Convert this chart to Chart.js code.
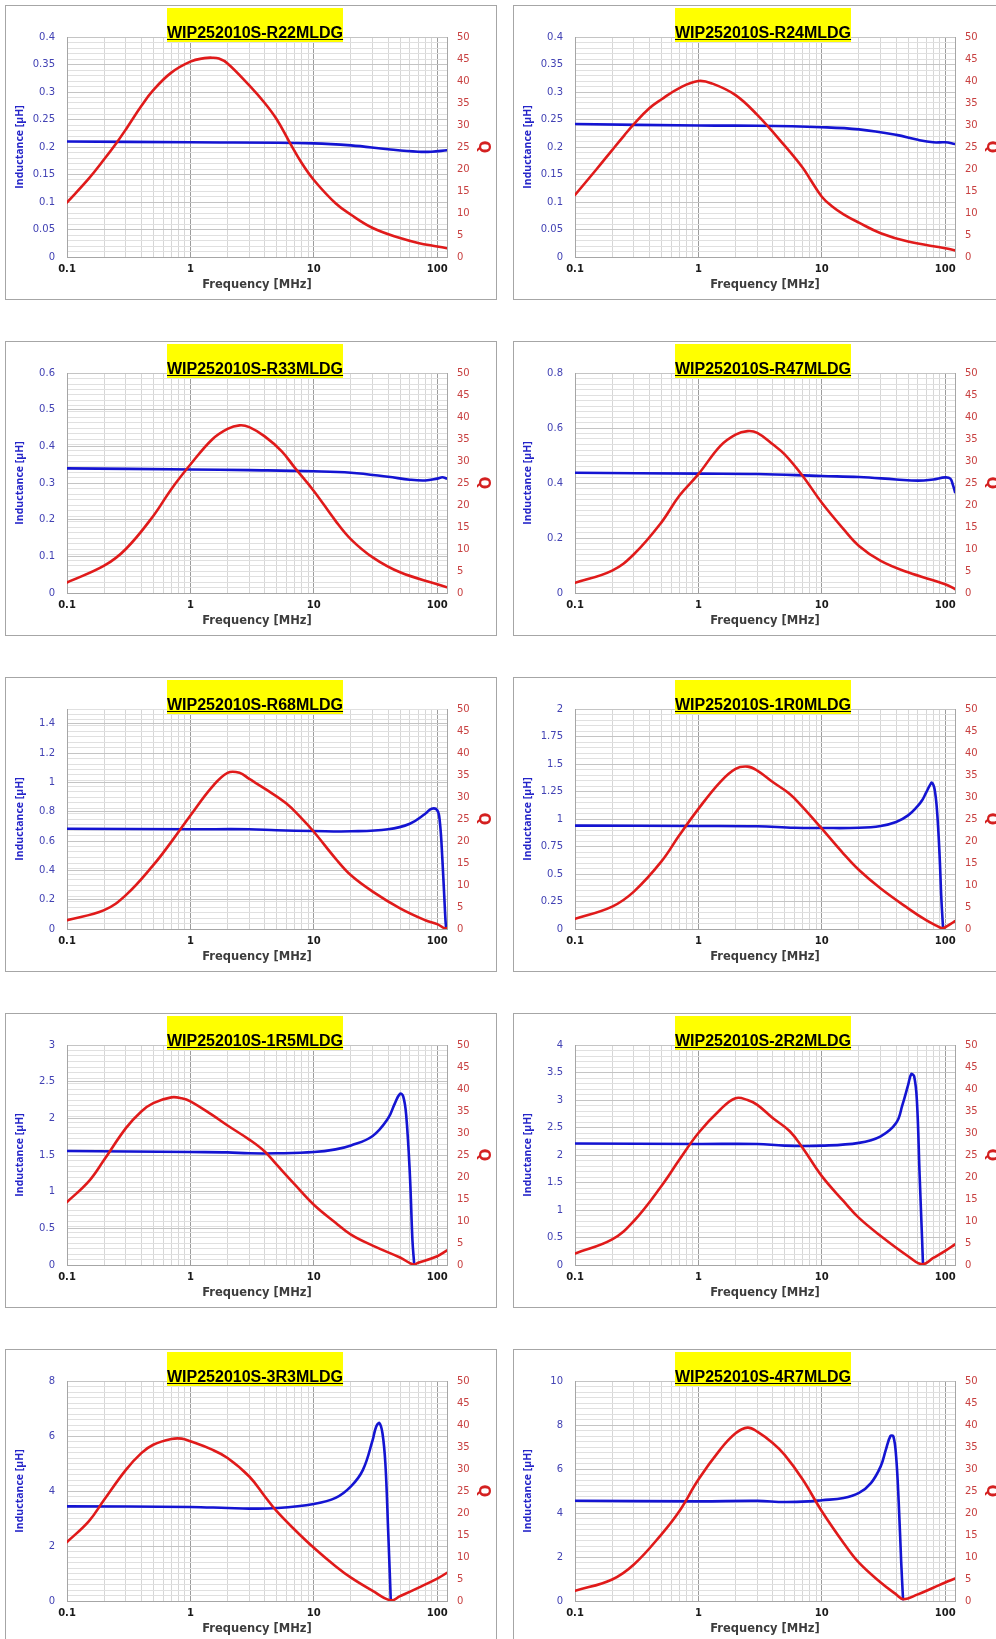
<!DOCTYPE html>
<html>
<head>
<meta charset="utf-8">
<script src="https://cdn.jsdelivr.net/npm/chart.js@4.4.0/dist/chart.umd.min.js"></script>
<style>
  html, body { margin: 0; padding: 0; background: #fff; }
  body { width: 996px; height: 1639px; overflow: hidden; position: relative; }
  .panel { position: absolute; width: 492px; height: 295px; border: 1px solid #a6a6a6; box-sizing: border-box; background: #fff; }
  .panel canvas { position: absolute; left: 0; top: 0; }
  .ttl { position: absolute; top: 2px; left: 161px; height: 34px; padding-top: 16px; box-sizing: border-box;
         background: #ffff00; font: bold 16px "Liberation Sans", Arial, sans-serif; line-height: 18px;
         color: #000; text-decoration: underline; white-space: nowrap; z-index: 2; }
</style>
</head>
<body>
<script>
// panel titles, in reading order (left column, right column)
const titles = ['WIP252010S-R22MLDG', 'WIP252010S-R24MLDG', 'WIP252010S-R33MLDG', 'WIP252010S-R47MLDG',
  'WIP252010S-R68MLDG', 'WIP252010S-1R0MLDG', 'WIP252010S-1R5MLDG', 'WIP252010S-2R2MLDG',
  'WIP252010S-3R3MLDG', 'WIP252010S-4R7MLDG'];
// left axis (inductance) range and label step
const lMax = [0.4, 0.4, 0.6, 0.8, 1.5, 2, 3, 4, 8, 10];
const lStep = [0.05, 0.05, 0.1, 0.2, 0.2, 0.25, 0.5, 0.5, 2, 2];
// right axis (Q)
const qMax = 50;
const qStep = 5;
// x axis (log, MHz)
const xMin = 0.1;
const xMax = 120;
const xTickLabels = [0.1, 1, 10, 100];
const xMinorSteps = [1, 2, 3, 4, 5, 6, 7, 8, 9];

// R22
const r22LFreq = [0.1, 1, 10, 20, 40, 70, 90, 120];
const r22L = [0.210, 0.2085, 0.2066, 0.203, 0.196, 0.1915, 0.1915, 0.194];
const r22QFreq = [0.1, 0.15, 0.2, 0.25, 0.3, 0.4, 0.5, 0.7, 1, 1.3, 1.5, 1.7, 2, 3, 4, 5, 6.3, 8, 10, 15, 20, 30, 50, 70, 100, 120];
const r22Q = [12.4, 17.8, 22.2, 25.8, 29, 34.3, 37.9, 41.9, 44.4, 45.2, 45.3, 45.1, 44, 39, 35, 31.3, 26.3, 21.3, 17.5, 12.2, 9.6, 6.6, 4.3, 3.2, 2.4, 2.0];
// R24
const r24LFreq = [0.1, 1, 3, 10, 20, 40, 60, 80, 100, 120];
const r24L = [0.2417, 0.239, 0.2387, 0.236, 0.232, 0.222, 0.213, 0.2085, 0.2085, 0.2054];
const r24QFreq = [0.1, 0.15, 0.2, 0.25, 0.3, 0.4, 0.5, 0.7, 1, 1.3, 2, 3, 5, 7, 8, 10, 12, 15, 20, 30, 50, 100, 120];
const r24Q = [14.1, 20, 24.3, 27.6, 30.2, 33.8, 35.8, 38.4, 40, 39.4, 36.8, 32.3, 25.3, 20.3, 17.8, 13.7, 11.6, 9.7, 7.8, 5.4, 3.5, 2.0, 1.5];
// R33
const r33LFreq = [0.1, 1, 3, 10, 20, 40, 60, 80, 100, 110, 120];
const r33L = [0.340, 0.337, 0.335, 0.332, 0.328, 0.317, 0.309, 0.307, 0.312, 0.3155, 0.312];
const r33QFreq = [0.1, 0.2, 0.3, 0.5, 0.7, 1, 1.5, 2, 2.5, 3, 4, 5.5, 7, 10, 15, 20, 30, 50, 100, 120];
const r33Q = [2.4, 6.2, 10, 17.5, 23.6, 29.2, 34.9, 37.3, 38.1, 37.7, 35.6, 32.2, 28.5, 23.2, 16.4, 12.2, 8.1, 4.7, 2.0, 1.3];
// R47
const r47LFreq = [0.1, 1, 3, 10, 20, 40, 60, 80, 100, 110, 115, 120];
const r47L = [0.4375, 0.434, 0.4326, 0.4254, 0.4218, 0.413, 0.4085, 0.413, 0.4205, 0.416, 0.395, 0.367];
const r47QFreq = [0.1, 0.2, 0.3, 0.5, 0.7, 1, 1.5, 2, 2.5, 3, 4, 5, 7, 10, 15, 20, 30, 50, 100, 120];
const r47Q = [2.3, 5.1, 8.8, 16, 22.1, 27, 33.4, 36, 36.8, 36.4, 33.8, 31.5, 26.6, 20.5, 14.5, 10.7, 7.3, 4.7, 2.0, 0.9];
// R68
const r68LFreq = [0.1, 1, 3, 5, 10, 20, 40, 60, 80, 90, 100, 105, 110, 115, 118, 120];
const r68L = [0.684, 0.68, 0.68, 0.673, 0.668, 0.666, 0.68, 0.718, 0.786, 0.82, 0.81, 0.73, 0.48, 0.16, 0.005, 0];
const r68QFreq = [0.1, 0.2, 0.3, 0.5, 0.7, 1, 1.5, 2, 2.5, 3, 4, 6, 8, 10, 15, 20, 30, 50, 80, 100, 115, 120];
const r68Q = [2.0, 4.3, 7.7, 14.5, 19.8, 25.8, 32.3, 35.5, 35.5, 34.1, 31.9, 28.5, 25.1, 22.1, 16, 12.2, 8.5, 4.7, 2.0, 1.1, 0.15, 0.2];
// 1R0
const r1r0LFreq = [0.1, 1, 3, 6, 10, 20, 30, 40, 50, 60, 65, 70, 75, 78, 82, 86, 90, 93, 96];
const r1r0L = [0.94, 0.937, 0.934, 0.92, 0.918, 0.92, 0.937, 0.973, 1.033, 1.12, 1.17, 1.24, 1.305, 1.33, 1.27, 1.06, 0.67, 0.28, 0.01];
const r1r0QFreq = [0.1, 0.2, 0.3, 0.5, 0.7, 1, 1.5, 2, 2.5, 3, 4, 5.5, 7, 10, 15, 20, 30, 50, 70, 85, 95, 100, 110, 120];
const r1r0Q = [2.3, 5.1, 8.5, 15.3, 21.3, 27.3, 33.4, 36.4, 36.9, 36, 33.4, 30.7, 27.7, 22.8, 17.1, 13.4, 9.2, 4.7, 2.0, 0.75, 0.15, 0.4, 1.1, 1.8];
// 1R5
const r1r5LFreq = [0.1, 1, 2, 3, 5, 10, 15, 20, 30, 40, 45, 50, 53, 56, 60, 63, 65];
const r1r5L = [1.555, 1.54, 1.536, 1.523, 1.523, 1.54, 1.577, 1.63, 1.76, 2.0, 2.19, 2.336, 2.3, 2.05, 1.24, 0.33, 0.02];
const r1r5QFreq = [0.1, 0.15, 0.2, 0.3, 0.4, 0.5, 0.7, 0.85, 1, 1.5, 2, 3, 4, 5, 7, 10, 15, 20, 30, 50, 64, 70, 100, 120];
const r1r5Q = [14.3, 19, 23.9, 31.1, 34.9, 36.8, 38.1, 37.9, 37.2, 34.1, 31.7, 28.5, 25.8, 22.8, 18.3, 13.7, 9.6, 6.9, 4.4, 1.7, 0.1, 0.5, 2.0, 3.3];
// 2R2
const r2r2LFreq = [0.1, 1, 3, 5, 10, 20, 30, 40, 45, 50, 53, 56, 59, 62, 65, 66];
const r2r2L = [2.21, 2.2, 2.2, 2.17, 2.17, 2.22, 2.34, 2.58, 2.91, 3.27, 3.47, 3.43, 2.97, 1.64, 0.44, 0.02];
const r2r2QFreq = [0.1, 0.2, 0.3, 0.5, 0.7, 1, 1.5, 2, 2.5, 3, 4, 5.5, 7, 10, 15, 20, 30, 50, 65, 80, 100, 120];
const r2r2Q = [2.6, 5.8, 10, 17.9, 23.9, 30, 35.3, 37.9, 37.5, 36.4, 33.4, 30.4, 26.6, 20.2, 14.5, 10.7, 6.6, 2.0, 0.15, 1.6, 3.2, 4.7];
// 3R3
const r3r3LFreq = [0.1, 1, 2, 3, 5, 10, 15, 20, 25, 30, 32, 34, 36, 38, 40, 42];
const r3r3L = [3.44, 3.42, 3.38, 3.36, 3.38, 3.53, 3.75, 4.17, 4.77, 5.86, 6.34, 6.47, 6.1, 5.0, 2.6, 0.06];
const r3r3QFreq = [0.1, 0.15, 0.2, 0.3, 0.4, 0.5, 0.7, 0.85, 1, 1.5, 2, 3, 4, 5, 7, 10, 15, 20, 30, 42, 50, 70, 100, 120];
const r3r3Q = [13.4, 18.1, 23, 29.8, 33.6, 35.5, 36.8, 36.9, 36.3, 34.4, 32.5, 28.3, 23.8, 20.4, 16.2, 12.1, 7.9, 5.3, 2.3, 0.15, 1.1, 3.0, 5.1, 6.4];
// 4R7
const r4r7LFreq = [0.1, 1, 3, 5, 8, 10, 15, 20, 25, 30, 33, 36, 38, 40, 42, 44, 45.5];
const r4r7L = [4.56, 4.53, 4.55, 4.5, 4.53, 4.58, 4.68, 4.91, 5.36, 6.12, 6.87, 7.5, 7.48, 6.57, 4.46, 1.74, 0.08];
const r4r7QFreq = [0.1, 0.2, 0.3, 0.5, 0.7, 1, 1.5, 2, 2.5, 3, 4, 5, 7, 10, 15, 20, 30, 40, 46, 60, 80, 100, 120];
const r4r7Q = [2.3, 4.9, 8.3, 15.1, 20.4, 27.6, 34.4, 38.1, 39.4, 38.5, 35.9, 33.2, 27.6, 20.4, 13.2, 8.7, 4.2, 1.5, 0.4, 1.5, 3.0, 4.2, 5.1];

const lFreqs = [r22LFreq, r24LFreq, r33LFreq, r47LFreq, r68LFreq, r1r0LFreq, r1r5LFreq, r2r2LFreq, r3r3LFreq, r4r7LFreq];
const lVals = [r22L, r24L, r33L, r47L, r68L, r1r0L, r1r5L, r2r2L, r3r3L, r4r7L];
const qFreqs = [r22QFreq, r24QFreq, r33QFreq, r47QFreq, r68QFreq, r1r0QFreq, r1r5QFreq, r2r2QFreq, r3r3QFreq, r4r7QFreq];
const qVals = [r22Q, r24Q, r33Q, r47Q, r68Q, r1r0Q, r1r5Q, r2r2Q, r3r3Q, r4r7Q];

const BLUE = '#1414d2';
const RED = '#e01a1a';
const FONT = '"DejaVu Sans", Verdana, sans-serif';

// geometry of the page (boxes)
const rowTops = [5, 341, 677, 1013, 1349];
const colLefts = [5, 513];

// vertical grid lines at 1..9 x each decade
const xGridValues = [];
xTickLabels.forEach(d => xMinorSteps.forEach(m => {
  const v = +(d * m).toPrecision(6);
  if (v >= xMin && v <= xMax) xGridValues.push(v);
}));

function isDecade(v) {
  const l = Math.log10(v);
  return Math.abs(l - Math.round(l)) < 1e-6;
}

function isMajor(v, step) {
  const r = v / step;
  return Math.abs(r - Math.round(r)) < 1e-6;
}

function buildChart(i) {
  const box = document.createElement('div');
  box.className = 'panel';
  box.style.left = colLefts[i % 2] + 'px';
  box.style.top = rowTops[Math.floor(i / 2)] + 'px';
  const ttl = document.createElement('div');
  ttl.className = 'ttl';
  ttl.textContent = titles[i];
  box.appendChild(ttl);
  const cv = document.createElement('canvas');
  cv.width = 490; cv.height = 293;
  cv.style.width = '490px'; cv.style.height = '293px';
  box.appendChild(cv);
  document.body.appendChild(box);

  const max = lMax[i], step = lStep[i];
  // 40 light horizontal divisions plus the labelled values
  const yVals = [];
  for (let k = 0; k <= 40; k++) yVals.push(+(max * k / 40).toFixed(6));
  for (let v = 0; v <= max + 1e-9; v += step) yVals.push(+v.toFixed(6));
  const yTicks = [...new Set(yVals)].sort((a, b) => a - b);

  new Chart(cv, {
    type: 'line',
    data: {
      datasets: [
        {
          label: 'Q',
          data: qFreqs[i].map((f, k) => ({ x: f, y: qVals[i][k] })),
          yAxisID: 'y1',
          borderColor: RED,
          order: 0
        },
        {
          label: 'Inductance',
          data: lFreqs[i].map((f, k) => ({ x: f, y: lVals[i][k] })),
          yAxisID: 'y',
          borderColor: BLUE,
          order: 1
        }
      ]
    },
    options: {
      responsive: false,
      animation: false,
      layout: { padding: { top: 31, left: 0, right: 0, bottom: 0 } },
      plugins: { legend: { display: false }, tooltip: { enabled: false } },
      elements: {
        point: { radius: 0 },
        line: { borderWidth: 2.6, tension: 0.4, fill: false, borderJoinStyle: 'round', borderCapStyle: 'round' }
      },
      scales: {
        x: {
          type: 'logarithmic',
          position: 'bottom',
          min: xMin,
          max: xMax,
          afterBuildTicks: s => { s.ticks = xGridValues.map(v => ({ value: v })); },
          afterFit: s => { s.height = 42; },
          ticks: {
            autoSkip: false, maxRotation: 0, minRotation: 0, padding: 6,
            color: '#1a1a1a',
            font: { family: FONT, size: 10, weight: 'bold' },
            callback: v => (isDecade(v) && xTickLabels.some(t => Math.abs(t - v) < 1e-9)) ? String(v) : ''
          },
          grid: {
            drawTicks: false,
            color: c => (c.tick && isDecade(c.tick.value)) ? '#9c9c9c' : '#d6d6d6',
            lineWidth: 1
          },
          border: { color: '#a6a6a6' },
          title: {
            display: true, text: 'Frequency [MHz]', color: '#3c3c3c',
            font: { family: FONT, size: 11.5, weight: 'bold' },
            padding: { top: 0, bottom: 7 }
          }
        },
        y: {
          position: 'left',
          min: 0,
          max: max,
          afterBuildTicks: s => { s.ticks = yTicks.map(v => ({ value: v })); },
          afterFit: s => { s.width = 61; },
          ticks: {
            autoSkip: false, padding: 12,
            color: '#4242b4',
            font: { family: FONT, size: 10 },
            callback: v => isMajor(v, step) ? String(+v.toFixed(4)) : ''
          },
          grid: {
            drawTicks: false,
            color: c => (c.tick && isMajor(c.tick.value, step)) ? '#c4c4c4' : '#e0e0e0'
          },
          border: { color: '#a6a6a6' },
          title: {
            display: true, text: 'Inductance [µH]', color: '#2424c8',
            font: { family: '"Open Sans", sans-serif', size: 10.5, weight: '700' },
            padding: { top: 8, bottom: 0 }
          }
        },
        y1: {
          position: 'right',
          min: 0,
          max: qMax,
          afterFit: s => { s.width = 49; },
          ticks: {
            stepSize: qStep, padding: 10,
            color: '#c84040',
            font: { family: FONT, size: 10 }
          },
          grid: { display: false, drawTicks: false },
          border: { color: '#a6a6a6' },
          title: {
            display: true, text: 'Q', color: '#d42020',
            font: { family: FONT, size: 15, weight: 'bold' },
            padding: { top: 4, bottom: 0 }
          }
        }
      }
    }
  });
}

for (let i = 0; i < titles.length; i++) buildChart(i);
</script>
</body>
</html>
